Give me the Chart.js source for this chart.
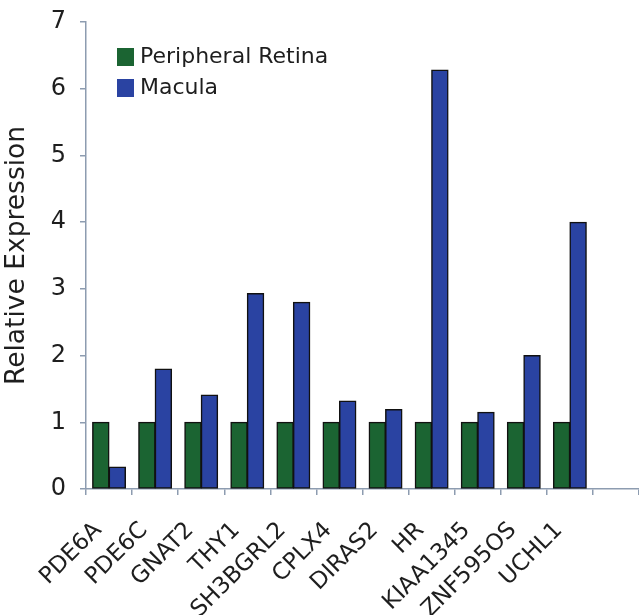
<!DOCTYPE html>
<html><head><meta charset="utf-8">
<script src="https://cdn.jsdelivr.net/npm/chart.js@4/dist/chart.umd.min.js"></script>
<style>html,body{margin:0;padding:0;background:#fff}#wrap{position:relative;width:639px;height:615px}</style>
</head><body><div id="wrap"><canvas id="c"></canvas></div>
<script>
const categories = ['PDE6A','PDE6C','GNAT2','THY1','SH3BGRL2','CPLX4','DIRAS2','HR','KIAA1345','ZNF595OS','UCHL1',''];
const peripheralRetina = [1,1,1,1,1,1,1,1,1,1,1,null];
const macula = [0.33,1.8,1.41,2.93,2.8,1.32,1.19,6.28,1.15,2.0,4.0,null];
const seriesNames = ['Peripheral Retina','Macula'];
const yMin = 0, yMax = 7, yStep = 1;

const FONT = '"DejaVu Sans", Verdana, sans-serif';
const AXIS = '#8d9cb0';
const TEXT = '#1e1e1e';
const GREEN = '#1b6432';
const BLUE = '#2a43a2';

const innerLegend = {
  id: 'innerLegend',
  afterDraw(chart) {
    const ctx = chart.ctx;
    ctx.save();
    ctx.font = '22px ' + FONT;
    ctx.textBaseline = 'middle';
    chart.data.datasets.forEach((ds, i) => {
      const x = 117, y = 48 + i * 31;
      ctx.fillStyle = ds.backgroundColor;
      ctx.fillRect(x, y, 17, 18);
      ctx.fillStyle = TEXT;
      ctx.fillText(ds.label, x + 23, y + 9);
    });
    ctx.restore();
  }
};

new Chart(document.getElementById('c'), {
  type: 'bar',
  data: {
    labels: categories,
    datasets: [
      {label: seriesNames[0], data: peripheralRetina, backgroundColor: GREEN, borderColor: '#111', borderWidth: 1.5, borderSkipped: false, inflateAmount: 0.5, categoryPercentage: 0.715, barPercentage: 1},
      {label: seriesNames[1], data: macula, backgroundColor: BLUE, borderColor: '#111', borderWidth: 1.5, borderSkipped: false, inflateAmount: 0.5, categoryPercentage: 0.715, barPercentage: 1}
    ]
  },
  options: {
    responsive: true,
    maintainAspectRatio: false,
    animation: false,
    layout: {padding: {top: 22, left: 0, right: 0, bottom: 0}},
    plugins: {legend: {display: false}, tooltip: {enabled: false}},
    scales: {
      x: {
        grid: {display: true, drawOnChartArea: false, color: AXIS, tickLength: 6, lineWidth: 1.5},
        border: {color: AXIS, width: 1.5},
        ticks: {color: TEXT, font: {family: FONT, size: 23}, minRotation: 45, maxRotation: 45, autoSkip: false, padding: 22, labelOffset: -11},
        afterFit(s) { s.height = 126; s.paddingLeft = 0; s.paddingRight = 0; }
      },
      y: {
        min: yMin, max: yMax,
        grid: {display: true, drawOnChartArea: false, color: AXIS, tickLength: 6, lineWidth: 1.5},
        border: {color: AXIS, width: 1.5},
        ticks: {stepSize: yStep, color: TEXT, font: {family: FONT, size: 24}, padding: 14},
        title: {display: true, text: 'Relative Expression', color: TEXT, font: {family: FONT, size: 26.5}, padding: {top: 1, bottom: 4}},
        afterFit(s) { s.width = 86; s.paddingTop = 0; s.paddingBottom = 0; }
      }
    }
  },
  plugins: [innerLegend]
});
</script></body></html>
